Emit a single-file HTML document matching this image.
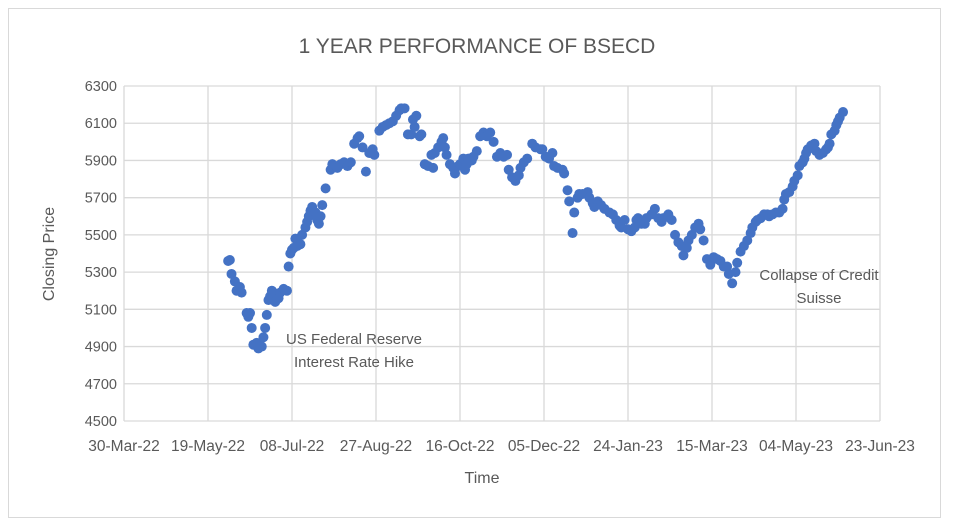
<!DOCTYPE html>
<html><head><meta charset="utf-8"><style>
body{margin:0;background:#fff;font-family:"Liberation Sans",sans-serif}
svg text{font-family:"Liberation Sans",sans-serif;fill:#595959}
</style></head><body>
<svg width="954" height="526" viewBox="0 0 954 526">
<rect x="8.5" y="8.5" width="932" height="509" fill="#fff" stroke="#d9d9d9"/>
<text x="477" y="53" font-size="21" text-anchor="middle">1 YEAR PERFORMANCE OF BSECD</text>
<g id="grid"></g><g id="ylab"></g><g id="xlab"></g><g id="pts"></g>
<text x="482" y="483" font-size="16" text-anchor="middle">Time</text>
<text transform="translate(54,254) rotate(-90)" font-size="16" text-anchor="middle">Closing Price</text>
<text x="354" y="344" font-size="15" text-anchor="middle">US Federal Reserve</text>
<text x="354" y="367" font-size="15" text-anchor="middle">Interest Rate Hike</text>
<text x="819" y="280" font-size="15" text-anchor="middle">Collapse of Credit</text>
<text x="819" y="303" font-size="15" text-anchor="middle">Suisse</text>
</svg>
<script>
const xTickLabels=["30-Mar-22","19-May-22","08-Jul-22","27-Aug-22","16-Oct-22","05-Dec-22","24-Jan-23","15-Mar-23","04-May-23","23-Jun-23"];
const yTicks=[4500,4700,4900,5100,5300,5500,5700,5900,6100,6300];
const days=[62,63,64,66,67,69,70,73,74,75,76,77,79,80,82,83,84,85,86,87,88,89,90,92,93,95,97,98,99,100,101,102,103,105,106,108,109,110,111,112,114,115,116,117,118,120,123,124,126,127,129,131,133,135,137,139,140,142,144,146,148,149,152,154,156,158,160,162,164,165,167,169,171,172,173,174,176,177,179,181,183,184,185,187,189,190,191,192,194,196,197,199,200,202,203,204,205,207,208,210,212,214,216,218,220,222,224,226,228,229,231,233,235,236,238,240,243,245,248,249,251,253,255,256,258,261,262,264,265,267,268,270,271,273,276,277,279,280,282,284,286,289,291,293,295,296,298,300,302,304,305,306,308,310,311,314,316,318,320,321,324,326,328,330,332,333,335,336,338,340,342,343,345,347,349,351,353,355,357,359,360,362,364,365,367,369,371,373,374,376,377,379,381,383,384,386,388,390,392,393,394,396,398,399,401,402,404,405,406,407,409,411,412,414,416,418,419,420,421,423,424,425,426,428];
const prices=[5360,5365,5290,5250,5200,5220,5190,5080,5060,5080,5000,4910,4920,4890,4900,4950,5000,5070,5150,5170,5200,5190,5140,5160,5190,5210,5200,5330,5400,5420,5430,5480,5440,5450,5500,5540,5570,5600,5630,5650,5620,5580,5560,5600,5660,5750,5850,5880,5870,5860,5880,5890,5870,5890,5990,6020,6030,5970,5840,5940,5960,5930,6060,6080,6090,6100,6110,6140,6170,6180,6180,6040,6040,6120,6080,6140,6030,6040,5880,5870,5930,5860,5940,5970,6000,6020,5970,5930,5880,5860,5830,5870,5880,5910,5850,5880,5910,5900,5920,5950,6030,6050,6030,6050,6000,5920,5940,5920,5930,5850,5810,5790,5820,5860,5890,5910,5990,5970,5960,5960,5920,5910,5940,5870,5860,5850,5830,5740,5680,5510,5620,5700,5720,5720,5730,5700,5670,5650,5680,5660,5640,5620,5610,5580,5550,5540,5580,5530,5520,5540,5580,5590,5560,5560,5590,5610,5640,5590,5570,5590,5610,5580,5500,5460,5440,5390,5430,5470,5500,5540,5560,5530,5470,5370,5340,5380,5370,5360,5330,5330,5290,5240,5300,5350,5410,5440,5470,5510,5540,5570,5580,5590,5610,5610,5600,5610,5620,5620,5640,5690,5720,5730,5760,5790,5820,5870,5890,5910,5940,5960,5980,5990,5950,5930,5940,5960,5970,5990,6040,6060,6090,6110,6130,6160];
const L=124,R=880,T=86,B=421,dayMax=450,yMin=4500,yMax=6300;
const xs=d=>L+(R-L)*d/dayMax, ys=v=>B-(B-T)*(v-yMin)/(yMax-yMin);
const NS="http://www.w3.org/2000/svg";
function mk(tag,parent,attrs){const e=document.createElementNS(NS,tag);for(const k in attrs)e.setAttribute(k,attrs[k]);parent.appendChild(e);return e;}
const g=document.getElementById('grid'),yl=document.getElementById('ylab'),xl=document.getElementById('xlab'),pg=document.getElementById('pts');
yTicks.forEach(v=>{
 const ln=mk('line',g,{x1:L,x2:R,y1:ys(v),y2:ys(v),stroke:'#d9d9d9','stroke-width':1.3});
 
 
 const t=mk('text',yl,{x:L-7,y:ys(v)+5,'font-size':14.5,'text-anchor':'end'});
 t.textContent=v;
 
 
});
xTickLabels.forEach((s,i)=>{
 const x=xs(i*50);
 const ln=mk('line',g,{x1:x,x2:x,y1:T,y2:B,stroke:'#d9d9d9','stroke-width':1.3});
 
 
 const t=mk('text',xl,{x:x,y:451,'font-size':15.5,'text-anchor':'middle'});
 t.textContent=s;
 
 
});
days.forEach((d,i)=>{
 const c=mk('circle',pg,{cx:xs(d),cy:ys(prices[i]),r:5,fill:'#4472C4'});
 
 
});
</script>
</body></html>
